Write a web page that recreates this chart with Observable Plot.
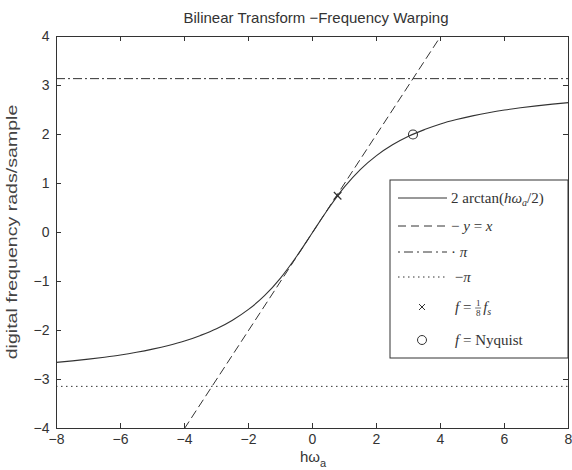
<!DOCTYPE html>
<html>
<head>
<meta charset="utf-8">
<script src="https://cdn.jsdelivr.net/npm/d3@7"></script>
<script src="https://cdn.jsdelivr.net/npm/@observablehq/plot@0.6"></script>
<style>
  html, body { margin: 0; padding: 0; background: #fff; }
  svg { display: block; }
</style>
</head>
<body>
<div id="chart"></div>
<script>
// Curve (x = hω_a, y = digital frequency)
const curveX = [-8,-7.5,-7,-6.5,-6,-5.5,-5,-4.5,-4,-3.5,-3,-2.5,-2,-1.5,-1,-0.5,0,0.5,1,1.5,2,2.5,3,3.5,4,4.5,5,5.5,6,6.5,7,7.5,8];
const curveY = [-2.65,-2.62,-2.585,-2.545,-2.50,-2.445,-2.38,-2.305,-2.215,-2.10,-1.965,-1.79,-1.57,-1.29,-0.93,-0.49,0,0.49,0.93,1.29,1.57,1.79,1.965,2.10,2.215,2.305,2.38,2.445,2.50,2.545,2.585,2.62,2.65];
const identX = [-4, 4];
const identY = [-4, 4];
const piLevel = 3.14;
const negPiLevel = -3.14;
const eighthMark = {x: 0.785, y: 0.75};
const nyquistMark = {x: 3.14, y: 2.0};
const xTicks = [-8,-6,-4,-2,0,2,4,6,8];
const yTicks = [-4,-3,-2,-1,0,1,2,3,4];
const titleText = "Bilinear Transform \u2212Frequency Warping";
const yLabel = "digital frequency rads/sample";

const curve = curveX.map((x, i) => ({x, y: curveY[i]}));
const ident = identX.map((x, i) => ({x, y: identY[i]}));
const ink = "#333";
const sans = "'Liberation Sans', Arial, sans-serif";
const serif = "'Liberation Serif', 'DejaVu Serif', serif";

const W = 572, H = 470;
const mL = 56, mR = 4, mT = 36, mB = 42;
const frameH = H - mT - mB;
const frameW = W - mL - mR;
const tick = 5;

const plot = Plot.plot({
  width: W, height: H,
  marginLeft: mL, marginRight: mR, marginTop: mT, marginBottom: mB,
  style: {fontFamily: sans, fontSize: "14px", color: ink, background: "#fff"},
  x: {domain: [-8, 8], ticks: xTicks, tickSize: 0, tickPadding: 6, label: null},
  y: {domain: [-4, 4], ticks: yTicks, tickSize: 0, tickPadding: 7, label: null},
  marks: [
    Plot.frame({stroke: ink, strokeWidth: 1}),
    Plot.ruleX(xTicks, {x: d => d, insetTop: frameH - tick, stroke: ink}),
    Plot.ruleX(xTicks, {x: d => d, insetBottom: frameH - tick, stroke: ink}),
    Plot.ruleY(yTicks, {y: d => d, insetRight: frameW - tick, stroke: ink}),
    Plot.ruleY(yTicks, {y: d => d, insetLeft: frameW - tick, stroke: ink}),
    Plot.ruleY([piLevel], {stroke: ink, strokeWidth: 1, strokeDasharray: "9,3,2,3"}),
    Plot.ruleY([negPiLevel], {stroke: ink, strokeWidth: 1, strokeDasharray: "1.5,3.5"}),
    Plot.line(ident, {x: "x", y: "y", stroke: ink, strokeWidth: 1, strokeDasharray: "8,5"}),
    Plot.line(curve, {x: "x", y: "y", stroke: ink, strokeWidth: 1.1, curve: "monotone-x"}),
    Plot.dot([eighthMark], {x: "x", y: "y", symbol: "times", r: 3.5, stroke: ink, strokeWidth: 1.2}),
    Plot.dot([nyquistMark], {x: "x", y: "y", symbol: "circle", r: 4.5, stroke: ink, fill: "none", strokeWidth: 1.1})
  ]
});
document.getElementById("chart").appendChild(plot);

const svg = d3.select(plot);
svg.append("text").attr("x", 316).attr("y", 23).attr("text-anchor", "middle")
  .attr("font-family", sans).attr("font-size", 15).attr("fill", ink)
  .text(titleText);
const xl = svg.append("text").attr("x", 313).attr("y", 462).attr("text-anchor", "middle")
  .attr("font-family", sans).attr("font-size", 15).attr("fill", ink);
xl.append("tspan").text("h\u03c9");
xl.append("tspan").attr("dy", 5).attr("font-size", 11).text("a");
svg.append("text").attr("transform", "translate(17,232) scale(1,1.4) rotate(-90)").attr("text-anchor", "middle")
  .attr("font-family", sans).attr("font-size", 14).attr("fill", "#444")
  .text(yLabel);

// legend
const lg = svg.append("g").attr("font-family", serif).attr("font-size", 15).attr("fill", ink).attr("text-anchor", "start");
lg.append("rect").attr("x", 390).attr("y", 180).attr("width", 178).attr("height", 178)
  .attr("fill", "#fff").attr("stroke", ink).attr("stroke-width", 1);
const rows = [198, 226, 252, 277, 307, 340];
const x0 = 398, x1 = 447, tx = 451, tx2 = 455;
lg.append("line").attr("x1", x0).attr("x2", x1).attr("y1", rows[0]).attr("y2", rows[0]).attr("stroke", ink);
lg.append("line").attr("x1", x0).attr("x2", x1).attr("y1", rows[1]).attr("y2", rows[1]).attr("stroke", ink).attr("stroke-dasharray", "8,5");
lg.append("line").attr("x1", x0).attr("x2", x1).attr("y1", rows[2]).attr("y2", rows[2]).attr("stroke", ink).attr("stroke-dasharray", "2,4,9,4");
lg.append("line").attr("x1", x0).attr("x2", x1).attr("y1", rows[3]).attr("y2", rows[3]).attr("stroke", ink).attr("stroke-dasharray", "1.5,3.5");
const mx = 422;
lg.append("path").attr("d", `M${mx-3},${rows[4]-3}L${mx+3},${rows[4]+3}M${mx-3},${rows[4]+3}L${mx+3},${rows[4]-3}`).attr("stroke", ink).attr("fill", "none");
lg.append("circle").attr("cx", mx).attr("cy", rows[5]).attr("r", 4.5).attr("stroke", ink).attr("fill", "none");

function lt(x, y) { return lg.append("text").attr("x", x).attr("y", y + 5); }
let t = lt(tx, rows[0]);
t.append("tspan").text("2 arctan(");
t.append("tspan").attr("font-style", "italic").text("h\u03c9");
t.append("tspan").attr("font-style", "italic").attr("font-size", 10).attr("dy", 3).text("a");
t.append("tspan").attr("dy", -3).text("/2)");
t = lt(tx, rows[1]);
t.append("tspan").text("\u2212 ");
t.append("tspan").attr("font-style", "italic").text("y");
t.append("tspan").text(" = ");
t.append("tspan").attr("font-style", "italic").text("x");
t = lt(tx, rows[2]);
t.append("tspan").text("\u00b7 ");
t.append("tspan").attr("font-style", "italic").text("\u03c0");
t = lt(tx, rows[3]);
t.append("tspan").text(" \u2212");
t.append("tspan").attr("font-style", "italic").text("\u03c0");
t = lt(tx2, rows[4]);
t.append("tspan").attr("font-style", "italic").text("f");
t.append("tspan").text(" = ");
const fx = tx2 + t.node().getComputedTextLength() + 3;
lg.append("text").attr("x", fx).attr("y", rows[4] - 1).attr("font-size", 9).attr("text-anchor", "middle").text("1");
lg.append("line").attr("x1", fx - 3).attr("x2", fx + 3).attr("y1", rows[4] + 1).attr("y2", rows[4] + 1).attr("stroke", ink).attr("stroke-width", 0.7);
lg.append("text").attr("x", fx).attr("y", rows[4] + 9).attr("font-size", 9).attr("text-anchor", "middle").text("8");
t = lt(fx + 5, rows[4]);
t.append("tspan").attr("font-style", "italic").text("f");
t.append("tspan").attr("font-style", "italic").attr("font-size", 10).attr("dy", 3).text("s");
t = lt(tx2, rows[5]);
t.append("tspan").attr("font-style", "italic").text("f");
t.append("tspan").text(" = Nyquist");
</script>
</body>
</html>
